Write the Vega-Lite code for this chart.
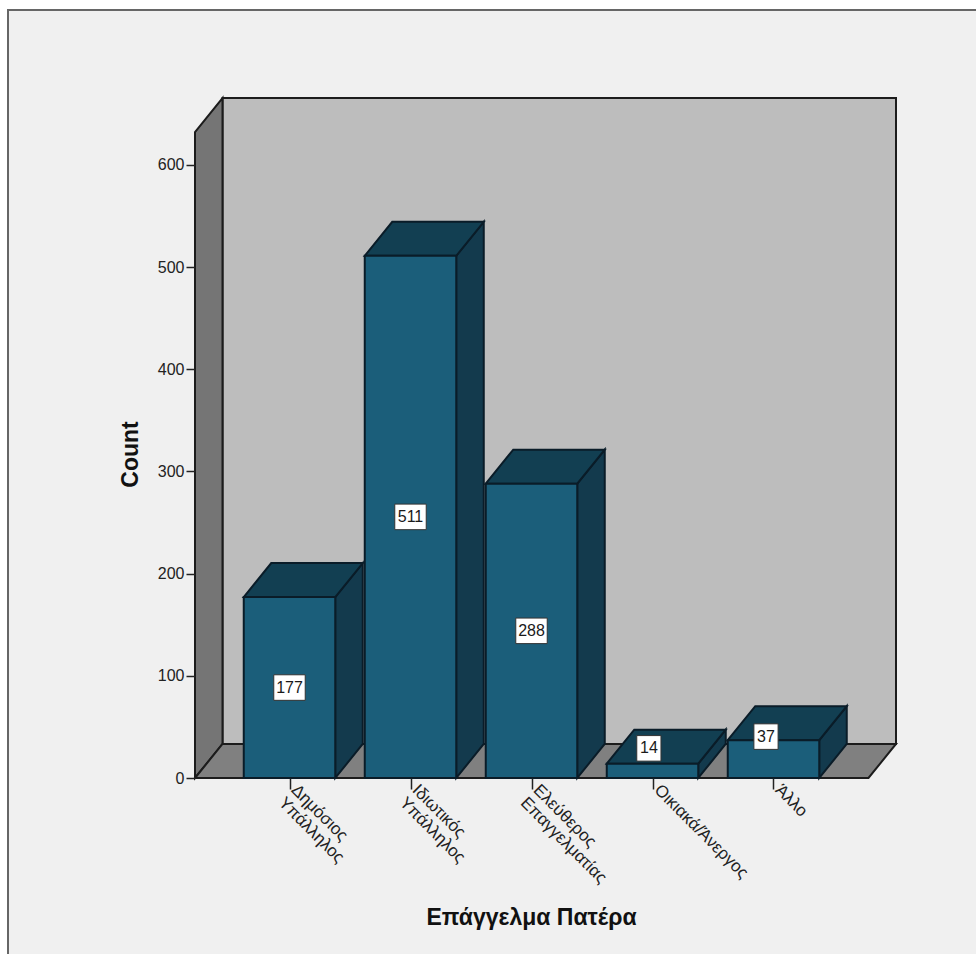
{
  "$schema": "https://vega.github.io/schema/vega-lite/v6.json",
  "width": 701,
  "height": 680,
  "padding": {"left": 195, "top": 98, "right": 80, "bottom": 176},
  "autosize": "none",
  "background": "#ffffff",
  "datasets": {
    "jobs": [
      {"job": "Δημόσιος Υπάλληλος", "order": 0, "count": 177},
      {"job": "Ιδιωτικός Υπάλληλος", "order": 1, "count": 511},
      {"job": "Ελεύθερος Επαγγελματίας", "order": 2, "count": 288},
      {"job": "Οικιακά/Άνεργος", "order": 3, "count": 14},
      {"job": "Άλλο", "order": 4, "count": 37}
    ],
    "corners": [{"corner": 0}, {"corner": 1}, {"corner": 2}, {"corner": 3}],
    "edges": [{"corner": 0}, {"corner": 1}],
    "panel": [{"part": "panel"}]
  },
  "encoding": {
    "x": {
      "field": "gx",
      "type": "quantitative",
      "scale": {"domain": [-0.781, 5.0124], "nice": false, "zero": false},
      "axis": {
        "title": "Επάγγελμα Πατέρα",
        "titleFont": "Liberation Sans",
        "titleFontSize": 23,
        "titleFontWeight": "bold",
        "titleColor": "#111111",
        "titleX": 336,
        "titleY": 139,
        "titleBaseline": "middle",
        "values": [0, 1, 2, 3, 4],
        "domain": false,
        "grid": false,
        "tickColor": "#222222",
        "tickWidth": 1.5,
        "tickSize": 11,
        "labelFont": "Liberation Sans",
        "labelFontSize": 17,
        "labelColor": "#222222",
        "labelAngle": 45,
        "labelAlign": "left",
        "labelBaseline": "middle",
        "labelPadding": -2,
        "labelOffset": 4,
        "labelLineHeight": 18,
        "labelOverlap": false,
        "labelBound": false,
        "labelFlush": false,
        "labelExpr": "[['Δημόσιος','Υπάλληλος'],['Ιδιωτικός','Υπάλληλος'],['Ελεύθερος','Επαγγελματίας'],['Οικιακά/Άνεργος'],['Άλλο']][datum.value]",
        "zindex": 1
      }
    },
    "y": {
      "field": "gy",
      "type": "quantitative",
      "scale": {"domain": [0, 665.4], "nice": false, "zero": false},
      "axis": {
        "title": "Count",
        "titleFont": "Liberation Sans",
        "titleFontSize": 23,
        "titleFontWeight": "bold",
        "titleColor": "#111111",
        "titleX": -65,
        "titleY": 356,
        "titleAngle": -90,
        "titleBaseline": "middle",
        "values": [0, 100, 200, 300, 400, 500, 600],
        "domain": false,
        "grid": false,
        "tickColor": "#222222",
        "tickWidth": 1.5,
        "tickSize": 9,
        "labelFont": "Liberation Sans",
        "labelFontSize": 16,
        "labelColor": "#222222",
        "labelPadding": 2,
        "zindex": 1
      }
    }
  },
  "layer": [
    {
      "data": {"name": "panel"},
      "transform": [
        {"calculate": "-2.3264", "as": "gx"},
        {"calculate": "5.72", "as": "gx2"},
        {"calculate": "751.5", "as": "gy"},
        {"calculate": "-176", "as": "gy2"}
      ],
      "mark": {"type": "rect", "fill": "#f0f0f0", "stroke": "#666666", "strokeWidth": 2},
      "encoding": {"x2": {"field": "gx2"}, "y2": {"field": "gy2"}}
    },
    {
      "data": {"name": "panel"},
      "transform": [
        {"calculate": "-0.5537", "as": "gx"},
        {"calculate": "5.0124", "as": "gx2"},
        {"calculate": "665.4", "as": "gy"},
        {"calculate": "33.3", "as": "gy2"}
      ],
      "mark": {"type": "rect", "fill": "#bdbdbd", "stroke": "#1c1c1c", "strokeWidth": 2},
      "encoding": {"x2": {"field": "gx2"}, "y2": {"field": "gy2"}}
    },
    {
      "data": {"name": "edges"},
      "transform": [
        {"calculate": "-0.781 + datum.corner * 0.2273", "as": "gx"},
        {"calculate": "632.1 + datum.corner * 33.3", "as": "gy"},
        {"calculate": "datum.corner * 33.3", "as": "gy2"}
      ],
      "mark": {"type": "area", "orient": "vertical", "fill": "#757575", "stroke": "#1c1c1c", "strokeWidth": 2},
      "encoding": {
        "y": {"field": "gy", "type": "quantitative", "stack": null},
        "y2": {"field": "gy2"}
      }
    },
    {
      "data": {"name": "corners"},
      "transform": [
        {"calculate": "[-0.781, -0.5537, 4.785, 5.0124][datum.corner]", "as": "gx"},
        {"calculate": "[0, 33.3, 33.3, 33.3][datum.corner]", "as": "gy"},
        {"calculate": "[0, 0, 0, 33.3][datum.corner]", "as": "gy2"}
      ],
      "mark": {"type": "area", "orient": "vertical", "fill": "#808080", "stroke": "#1c1c1c", "strokeWidth": 2},
      "encoding": {
        "y": {"field": "gy", "type": "quantitative", "stack": null},
        "y2": {"field": "gy2"}
      }
    },
    {
      "data": {"name": "jobs"},
      "transform": [
        {"calculate": "[0, 1]", "as": "corner"},
        {"flatten": ["corner"]},
        {"calculate": "datum.order + 0.3781 + datum.corner * 0.2273", "as": "gx"},
        {"calculate": "datum.count + datum.corner * 33.3", "as": "gy"},
        {"calculate": "datum.corner * 33.3", "as": "gy2"}
      ],
      "mark": {"type": "area", "orient": "vertical", "fill": "#133a4d", "stroke": "#0a1c28", "strokeWidth": 2},
      "encoding": {
        "y": {"field": "gy", "type": "quantitative", "stack": null},
        "y2": {"field": "gy2"},
        "detail": {"field": "job"}
      }
    },
    {
      "data": {"name": "jobs"},
      "transform": [
        {"calculate": "[0, 1, 2, 3]", "as": "corner"},
        {"flatten": ["corner"]},
        {"calculate": "datum.order + [-0.3781, -0.1508, 0.3781, 0.6054][datum.corner]", "as": "gx"},
        {"calculate": "datum.count + [0, 33.3, 33.3, 33.3][datum.corner]", "as": "gy"},
        {"calculate": "datum.count + [0, 0, 0, 33.3][datum.corner]", "as": "gy2"}
      ],
      "mark": {"type": "area", "orient": "vertical", "fill": "#123f52", "stroke": "#0a1c28", "strokeWidth": 2},
      "encoding": {
        "y": {"field": "gy", "type": "quantitative", "stack": null},
        "y2": {"field": "gy2"},
        "detail": {"field": "job"}
      }
    },
    {
      "data": {"name": "jobs"},
      "transform": [
        {"calculate": "datum.order - 0.3781", "as": "gx"},
        {"calculate": "datum.order + 0.3781", "as": "gx2"},
        {"calculate": "datum.count", "as": "gy"},
        {"calculate": "0", "as": "gy2"}
      ],
      "mark": {"type": "rect", "fill": "#1b5e7a", "stroke": "#0a1c28", "strokeWidth": 2},
      "encoding": {"x2": {"field": "gx2"}, "y2": {"field": "gy2"}}
    },
    {
      "data": {"name": "jobs"},
      "transform": [
        {"calculate": "datum.count < 50 ? datum.count / 2 + 22 : datum.count / 2", "as": "labelAt"},
        {"calculate": "datum.order + (datum.count < 20 ? -0.03 : datum.count < 50 ? -0.062 : 0)", "as": "labelX"},
        {"calculate": "datum.labelX - (datum.count < 100 ? 0.1 : 0.13)", "as": "gx"},
        {"calculate": "datum.labelX + (datum.count < 100 ? 0.1 : 0.13)", "as": "gx2"},
        {"calculate": "datum.labelAt + 12.5", "as": "gy"},
        {"calculate": "datum.labelAt - 12.5", "as": "gy2"}
      ],
      "mark": {"type": "rect", "fill": "#ffffff", "stroke": "#333333", "strokeWidth": 1},
      "encoding": {"x2": {"field": "gx2"}, "y2": {"field": "gy2"}}
    },
    {
      "data": {"name": "jobs"},
      "transform": [
        {"calculate": "datum.count < 50 ? datum.count / 2 + 22 : datum.count / 2", "as": "gy"},
        {"calculate": "datum.order + (datum.count < 20 ? -0.03 : datum.count < 50 ? -0.062 : 0)", "as": "gx"}
      ],
      "mark": {"type": "text", "font": "Liberation Sans", "fontSize": 16, "fill": "#1a1a1a", "align": "center", "baseline": "middle"},
      "encoding": {"text": {"field": "count", "type": "quantitative"}}
    }
  ]
}
